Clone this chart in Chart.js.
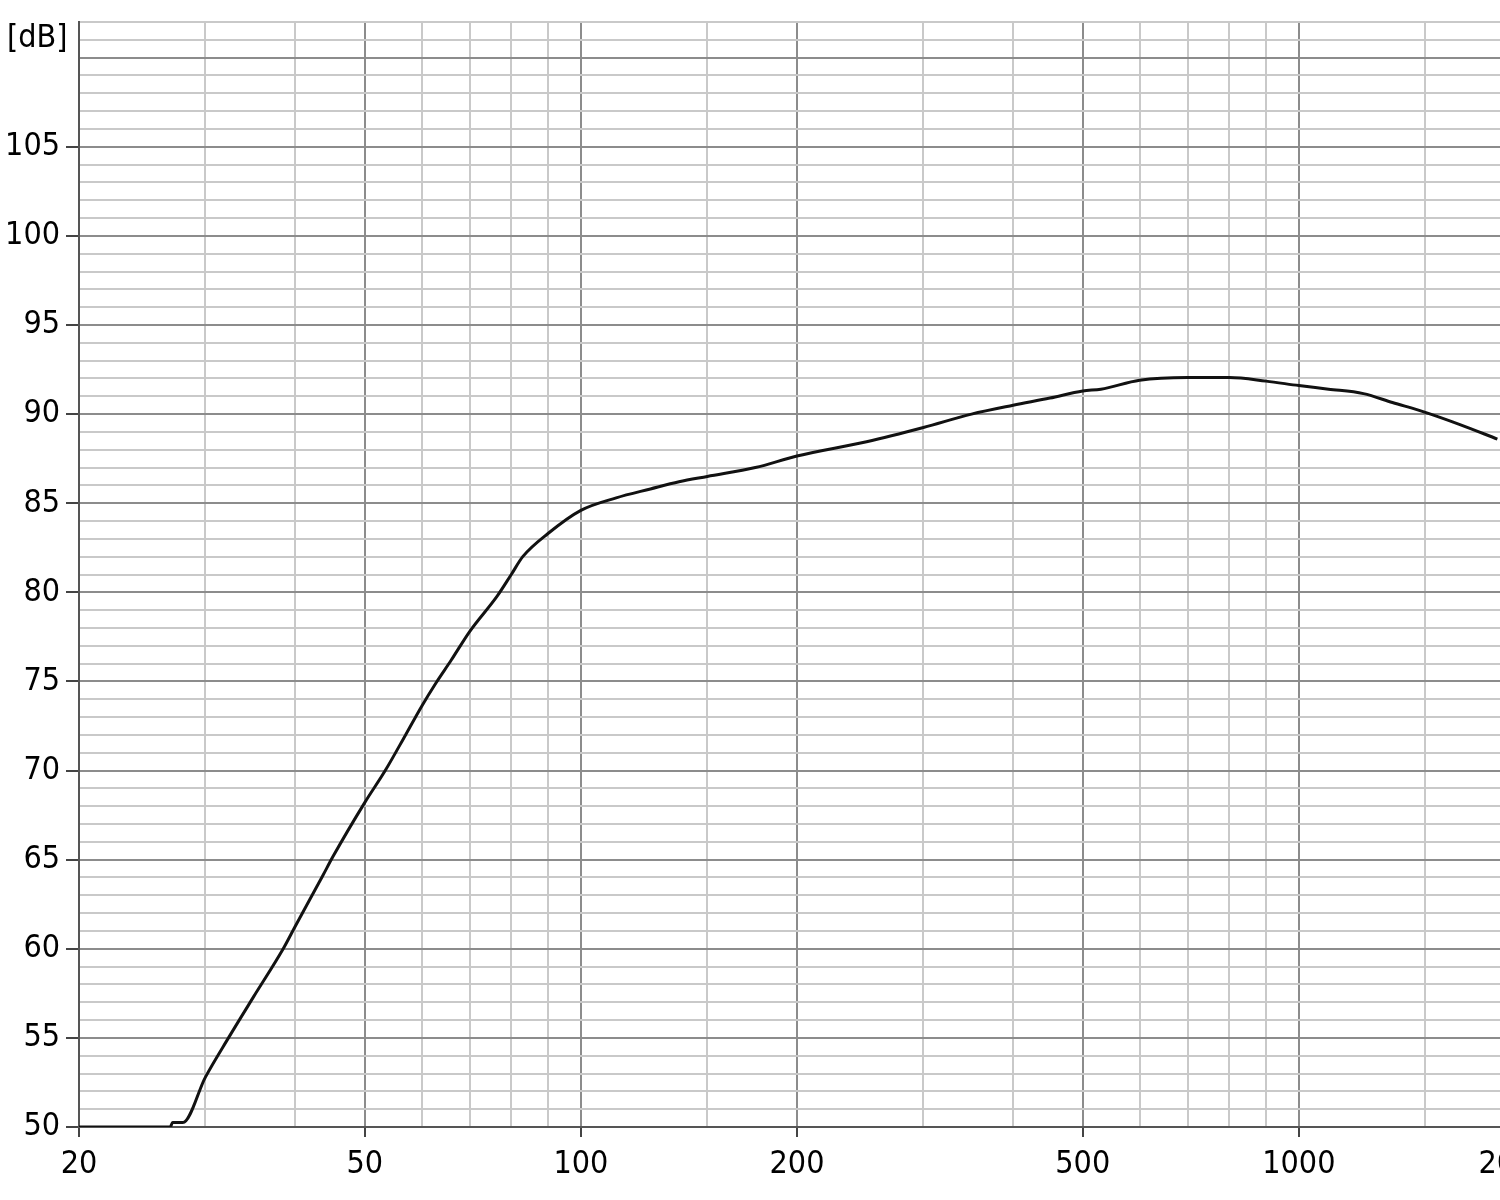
<!DOCTYPE html>
<html>
<head>
<meta charset="utf-8">
<script src="https://cdn.jsdelivr.net/npm/chart.js@4"></script>
<style>
    html, body { margin: 0; padding: 0; background: #fff; overflow: hidden; }
</style>
</head>
<body>
<canvas id="js--chart" width="1575" height="1200"></canvas>
<script>
// frequency response
const frequencies = [20, 26.8, 27, 27.9, 30, 32.3, 35, 38.5, 40, 43.7, 45.2, 50, 53.4, 57, 60, 62.8, 66, 70, 76.5, 80, 83, 90, 100, 112, 125, 137, 150, 175, 200, 250, 300, 350, 400, 450, 500, 530, 600, 700, 800, 900, 1000, 1100, 1230, 1350, 1500, 1680, 1890];
const levels = [50, 50, 50.25, 50.25, 52.8, 55, 57.3, 60, 61.25, 64.1, 65.2, 68.2, 70, 72, 73.6, 74.9, 76.2, 77.8, 79.8, 81, 82, 83.3, 84.6, 85.3, 85.8, 86.2, 86.5, 87, 87.65, 88.45, 89.25, 90, 90.5, 90.9, 91.3, 91.4, 91.9, 92.05, 92.05, 91.85, 91.6, 91.4, 91.15, 90.65, 90.1, 89.4, 88.6];

const xGrid = [20, 30, 40, 50, 60, 70, 80, 90, 100, 150, 200, 300, 400, 500, 600, 700, 800, 900, 1000, 1500, 2000];
const xLabels = [20, 50, 100, 200, 500, 1000, 2000];
const yMin = 50;
const yMax = 112;
const yLabels = [50, 55, 60, 65, 70, 75, 80, 85, 90, 95, 100, 105];

const darkLine = '#8c8c8c';
const lightLine = '#c9c9c9';
const fontFamily = "'DejaVu Sans Condensed', 'Liberation Sans', sans-serif";
const tickFont = { family: fontFamily, size: 32, lineHeight: 1 };

const yGrid = [];
for (let v = yMin; v <= yMax; v++) {
    yGrid.push(v);
}

const points = frequencies.map(function (f, i) {
    return { x: f, y: levels[i] };
});

const unitLabel = {
    id: 'unitLabel',
    afterDraw: function (chart) {
        const ctx = chart.ctx;
        ctx.save();
        ctx.fillStyle = '#000';
        ctx.font = "32px " + fontFamily;
        ctx.textAlign = 'left';
        ctx.textBaseline = 'middle';
        ctx.fillText('[dB]', 7, 39);
        ctx.restore();
    }
};

const config = {
    type: 'line',
    data: {
        datasets: [{
            data: points,
            borderColor: '#111',
            borderWidth: 3,
            pointRadius: 0,
            fill: false,
            cubicInterpolationMode: 'monotone'
        }]
    },
    options: {
        responsive: false,
        animation: false,
        // plot area runs past the window on the right, like the cropped original
        layout: { padding: { top: 22, right: 60, left: 0, bottom: 0 } },
        plugins: { legend: { display: false }, tooltip: { enabled: false } },
        scales: {
            x: {
                type: 'logarithmic',
                min: 20,
                max: 2000,
                afterBuildTicks: function (scale) {
                    scale.ticks = xGrid.map(function (v) { return { value: v }; });
                },
                afterFit: function (scale) {
                    scale.height = 73;
                },
                ticks: {
                    autoSkip: false,
                    maxRotation: 0,
                    color: '#000',
                    font: tickFont,
                    padding: 12,
                    callback: function (value) {
                        return xLabels.includes(value) ? String(value) : '';
                    }
                },
                grid: {
                    lineWidth: 2,
                    tickLength: 10,
                    color: function (ctx) {
                        return xLabels.includes(ctx.tick.value) ? darkLine : lightLine;
                    },
                    tickColor: function (ctx) {
                        return xLabels.includes(ctx.tick.value) ? '#444' : 'rgba(0,0,0,0)';
                    }
                },
                border: { color: '#555', width: 2 }
            },
            y: {
                type: 'linear',
                min: yMin,
                max: yMax,
                afterBuildTicks: function (scale) {
                    scale.ticks = yGrid.map(function (v) { return { value: v }; });
                },
                afterFit: function (scale) {
                    scale.width = 79;
                },
                ticks: {
                    autoSkip: false,
                    color: '#000',
                    font: tickFont,
                    padding: 6,
                    callback: function (value) {
                        return yLabels.includes(value) ? String(value) : '';
                    }
                },
                grid: {
                    lineWidth: 2,
                    tickLength: 13,
                    color: function (ctx) {
                        return ctx.tick.value % 5 === 0 ? darkLine : lightLine;
                    },
                    tickColor: function (ctx) {
                        return yLabels.includes(ctx.tick.value) ? '#444' : 'rgba(0,0,0,0)';
                    }
                },
                border: { color: '#555', width: 2 }
            }
        }
    },
    plugins: [unitLabel]
};

new Chart(document.getElementById("js--chart"), config);
</script>
</body>
</html>
